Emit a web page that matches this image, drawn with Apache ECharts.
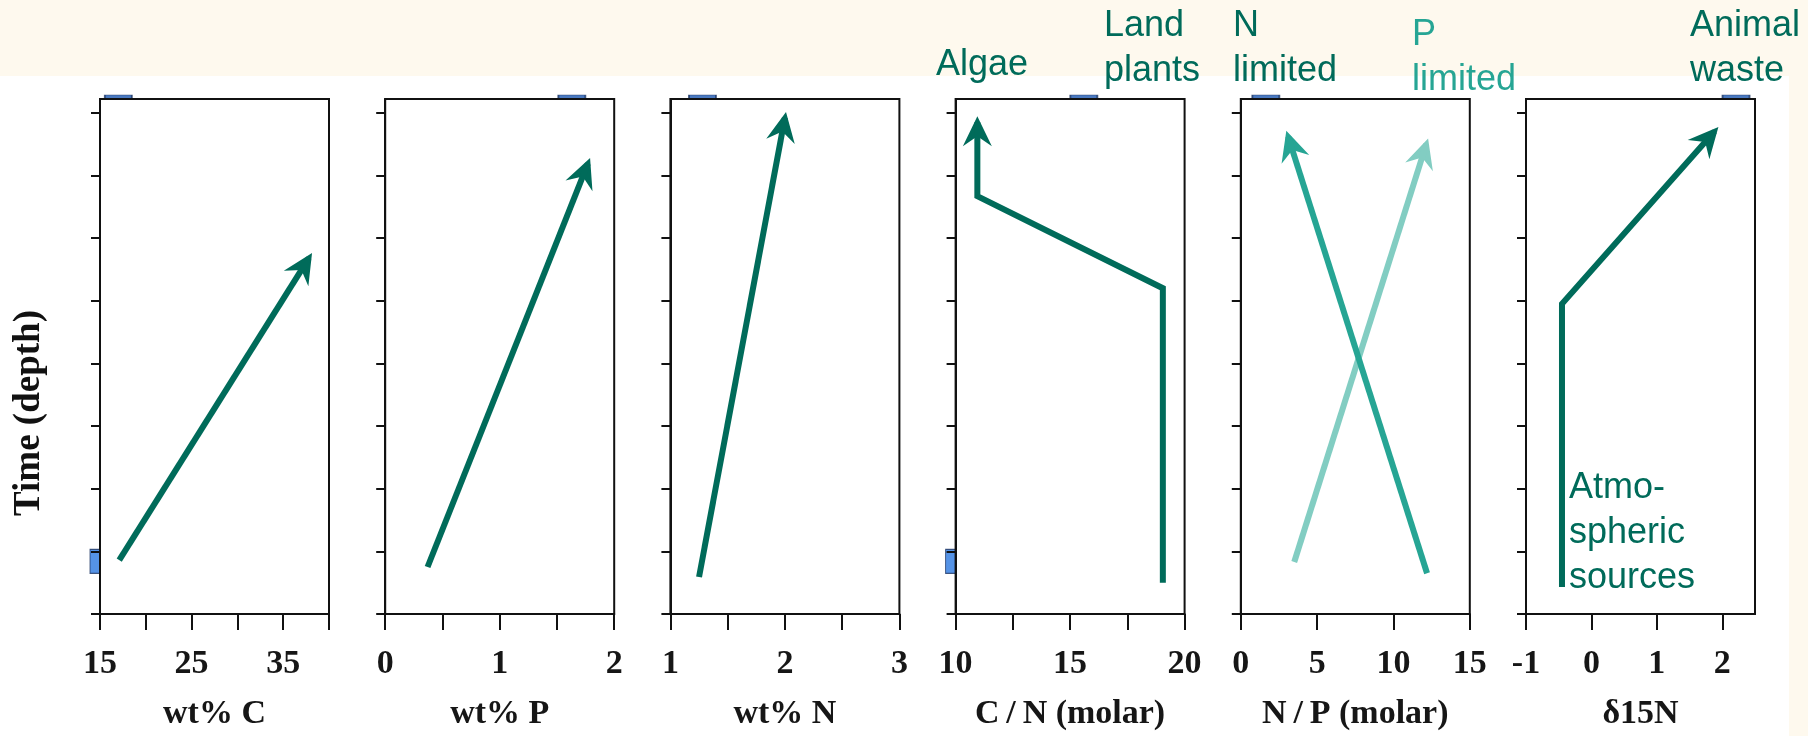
<!DOCTYPE html>
<html>
<head>
<meta charset="utf-8">
<title>Core profiles</title>
<script src="https://cdn.jsdelivr.net/npm/echarts@6/dist/echarts.min.js"></script>
<style>
  html, body { margin: 0; padding: 0; background: #fef9ee; }
  #chart { width: 1808px; height: 736px; }
</style>
</head>
<body>
<div id="chart"></div>
<script>
// depth axis has no units, 0 = bottom of the core
const depthMax = 8.22
const depthTicks = [0, 1, 2, 3, 4, 5, 6, 7, 8]

// one panel per proxy
const axisNames = ['wt% C', 'wt% P', 'wt% N', 'C\u2009/\u2009N (molar)', 'N\u2009/\u2009P (molar)', 'δ15N']
const axisMin = [15, 0, 1, 10, 0, -1]
const axisMax = [40, 2, 3, 20, 15, 2.5]
const axisTicks = [
  [15, 20, 25, 30, 35, 40],
  [0, 0.5, 1, 1.5, 2],
  [1, 1.5, 2, 2.5, 3],
  [10, 12.5, 15, 17.5, 20],
  [0, 5, 10, 15],
  [-1, 0, 1, 2]
]
const axisLabels = [
  [15, 25, 35],
  [0, 1, 2],
  [1, 2, 3],
  [10, 15, 20],
  [0, 5, 10, 15],
  [-1, 0, 1, 2]
]

// trend arrows (x value, depth)
const carbonX = [17.1, 37.8]
const carbonY = [0.86, 5.68]
const phosX = [0.37, 1.77]
const phosY = [0.75, 7.19]
const nitroX = [1.25, 2.0]
const nitroY = [0.59, 7.92]
const cnX = [19.05, 19.05, 10.95, 10.95]
const cnY = [0.5, 5.2, 6.67, 7.85]
const nLimX = [12.2, 3.1]
const nLimY = [0.65, 7.62]
const pLimX = [3.5, 12.15]
const pLimY = [0.83, 7.5]
const d15X = [-0.45, -0.45, 1.88]
const d15Y = [0.43, 4.95, 7.7]

// stray markers peeking out from behind the frames
const strayPanel = [0, 1, 2, 3, 4, 5, 0, 3]
const strayX = [17.0, 1.63, 1.28, 15.6, 1.64, 2.21, 15, 10]
const strayY = [8.22, 8.22, 8.22, 8.22, 8.22, 8.22, 0.84, 0.84]
const strayWide = [true, true, true, true, true, true, false, false]

const dark = '#006b5a'
const mid = '#26a594'
const light = '#82cdc2'
const serif = "'Liberation Serif', 'DejaVu Serif', serif"
const sans = "'Liberation Sans', Arial, sans-serif"

const chart = echarts.init(document.getElementById('chart'))

const panelLeft = 100
const panelStep = 285.2
const panelWidth = 229

const grids = [], xAxes = [], yAxes = []
for (let i = 0; i < 6; i++) {
  grids.push({
    left: panelLeft + i * panelStep, top: 99, width: panelWidth, height: 518,
    show: true, borderColor: '#111', borderWidth: 2, backgroundColor: '#ffffff'
  })
  xAxes.push({
    type: 'value', gridIndex: i, min: axisMin[i], max: axisMax[i],
    splitLine: { show: false },
    axisLine: { show: true, onZero: false, lineStyle: { color: '#111', width: 2 } },
    axisTick: { show: true, length: 16, lineStyle: { color: '#111', width: 2 }, customValues: axisTicks[i] },
    axisLabel: {
      show: true, customValues: axisLabels[i], margin: 33,
      fontFamily: serif, fontSize: 34, fontWeight: 'bold', color: '#161616'
    },
    name: axisNames[i], nameLocation: 'middle', nameGap: 83,
    nameTextStyle: { fontFamily: serif, fontSize: 34, fontWeight: 'bold', color: '#161616' }
  })
  yAxes.push({
    type: 'value', gridIndex: i, min: 0, max: depthMax,
    splitLine: { show: false },
    axisLine: { show: true, onZero: false, lineStyle: { color: '#111', width: 2 } },
    axisTick: { show: true, length: 9, lineStyle: { color: '#111', width: 2 }, customValues: depthTicks },
    axisLabel: { show: false }
  })
}

// shaft of an arrow
function shaft(panel, xs, ys, color) {
  return {
    type: 'line', xAxisIndex: panel, yAxisIndex: panel,
    data: xs.map((x, k) => [x, ys[k]]),
    symbol: 'none', silent: true, animation: false,
    lineStyle: { color: color, width: 6, join: 'miter', cap: 'butt' }
  }
}

// notched head, oriented along the last segment in pixel space
function head(panel, xs, ys, color) {
  const n = xs.length
  return {
    type: 'custom', xAxisIndex: panel, yAxisIndex: panel,
    silent: true, animation: false, clip: false,
    data: [[xs[n - 2], ys[n - 2], xs[n - 1], ys[n - 1]]],
    encode: { x: [0, 2], y: [1, 3] },
    renderItem: function (params, api) {
      const a = api.coord([api.value(0), api.value(1)])
      const b = api.coord([api.value(2), api.value(3)])
      const len = Math.hypot(b[0] - a[0], b[1] - a[1])
      const ux = (b[0] - a[0]) / len, uy = (b[1] - a[1]) / len
      const nx = -uy, ny = ux
      const L = 30, W = 14.5, N = 20
      const tx = b[0] + 6 * ux, ty = b[1] + 6 * uy
      return {
        type: 'polygon',
        shape: {
          points: [
            [tx, ty],
            [tx - L * ux + W * nx, ty - L * uy + W * ny],
            [tx - N * ux, ty - N * uy],
            [tx - L * ux - W * nx, ty - L * uy - W * ny]
          ]
        },
        style: { fill: color }
      }
    }
  }
}

const arrows = [
  [0, carbonX, carbonY, dark],
  [1, phosX, phosY, dark],
  [2, nitroX, nitroY, dark],
  [3, cnX, cnY, dark],
  [4, pLimX, pLimY, light],
  [4, nLimX, nLimY, mid],
  [5, d15X, d15Y, dark]
]
const series = []
arrows.forEach(a => {
  series.push(shaft(a[0], a[1], a[2], a[3]))
  series.push(head(a[0], a[1], a[2], a[3]))
})

// stray markers sit under the white plot areas, only their edges show
strayPanel.forEach((p, k) => {
  const wide = strayWide[k]
  series.push({
    type: 'scatter', xAxisIndex: p, yAxisIndex: p, z: -1,
    silent: true, animation: false, clip: false,
    data: [[strayX[k], strayY[k]]],
    symbol: 'rect', symbolSize: wide ? [27, 8] : [20, 24],
    itemStyle: { color: wide ? '#1d58b0' : '#2a78e0', borderColor: '#1b3563', borderWidth: 1 }
  })
})

function note(x, y, text, color) {
  return {
    type: 'text', x: x, y: y, silent: true,
    style: {
      text: text, fill: color, font: '36px ' + sans, lineHeight: 45,
      textAlign: 'left', textVerticalAlign: 'middle'
    }
  }
}

chart.setOption({
  backgroundColor: '#fef9ee',
  animation: false,
  grid: grids,
  xAxis: xAxes,
  yAxis: yAxes,
  series: series,
  graphic: [
    { type: 'rect', z: -100, silent: true, shape: { x: 0, y: 76, width: 1789, height: 660 }, style: { fill: '#ffffff' } },
    {
      type: 'text', x: 29, y: 413, rotation: Math.PI / 2, silent: true,
      style: { text: 'Time (depth)', fill: '#111', font: 'bold 37px ' + serif, textAlign: 'center', textVerticalAlign: 'middle' }
    },
    note(936, 65, 'Algae', dark),
    note(1104, 48.5, 'Land\nplants', dark),
    note(1233, 48.5, 'N\nlimited', dark),
    note(1412, 57.5, 'P\nlimited', mid),
    note(1690, 48.5, 'Animal\nwaste', dark),
    note(1569, 533, 'Atmo-\nspheric\nsources', dark)
  ]
})
</script>
</body>
</html>
